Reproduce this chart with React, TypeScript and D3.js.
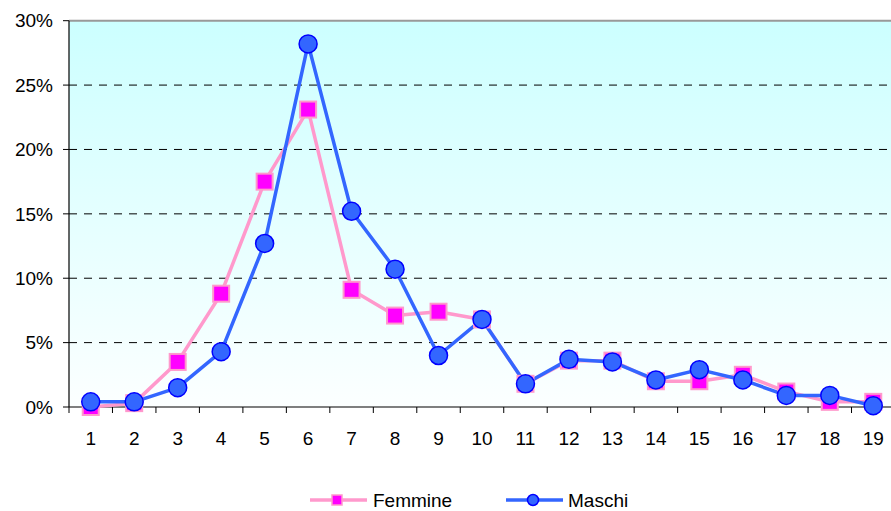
import React from "react";
import * as d3 from "d3";

const categories = ["1","2","3","4","5","6","7","8","9","10","11","12","13","14","15","16","17","18","19"];
const femmine = [0.0, 0.3, 3.5, 8.8, 17.5, 23.1, 9.1, 7.1, 7.4, 6.8, 1.8, 3.6, 3.6, 2.0, 2.0, 2.5, 1.2, 0.4, 0.4];
const maschi = [0.4, 0.4, 1.5, 4.3, 12.7, 28.2, 15.2, 10.7, 4.0, 6.8, 1.8, 3.7, 3.5, 2.1, 2.9, 2.1, 0.9, 0.9, 0.1];
const yTicks = [0, 5, 10, 15, 20, 25, 30];

const W = 891, H = 511;
const left = 69, right = 895, top = 20.7, bottom = 407;
const FONT = "'Liberation Sans', Arial, sans-serif";

export default function App() {
  const x = d3.scaleBand<string>().domain(categories).range([left, right]);
  const y = d3.scaleLinear().domain([0, 30]).range([bottom, top]);
  const cx = (c: string) => (x(c) as number) + x.bandwidth() / 2;
  const line = d3.line<number>().x((_, i) => cx(categories[i])).y((d) => y(d));
  const sq = 16;
  const ly = 500;
  return (
    <svg width={W} height={H} style={{ position: "absolute", left: 0, top: 0, display: "block" }}>
      <defs>
        <linearGradient id="bg" x1="0" y1="0" x2="0" y2="1">
          <stop offset="0%" stopColor="#CCFFFF" />
          <stop offset="100%" stopColor="#FCFFFF" />
        </linearGradient>
      </defs>
      <rect x={0} y={0} width={W} height={H} fill="#fff" />
      <rect x={left} y={top} width={right - left} height={bottom - top} fill="url(#bg)" />
      {yTicks.filter((t) => t > 0 && t < 30).map((t) => (
        <line key={t} x1={left} x2={right} y1={y(t)} y2={y(t)} stroke="#000" strokeWidth={1} strokeDasharray="8,7" />
      ))}
      <line x1={left} x2={right} y1={top} y2={top} stroke="#999" strokeWidth={2} />
      <line x1={left} x2={left} y1={top} y2={bottom} stroke="#000" strokeWidth={1.2} />
      <line x1={left} x2={right} y1={bottom} y2={bottom} stroke="#000" strokeWidth={1.2} />
      {yTicks.map((t) => (
        <g key={t}>
          <line x1={left - 6} x2={left} y1={y(t)} y2={y(t)} stroke="#000" strokeWidth={1} />
          <text x={53} y={y(t)} dy="0.35em" textAnchor="end" fontFamily={FONT} fontSize={19} fill="#000">{t}%</text>
        </g>
      ))}
      {categories.map((c) => (
        <g key={c}>
          <line x1={x(c) as number} x2={x(c) as number} y1={bottom} y2={bottom + 6} stroke="#000" strokeWidth={1} />
          <text x={cx(c)} y={438} dy="0.35em" textAnchor="middle" fontFamily={FONT} fontSize={19} fill="#000">{c}</text>
        </g>
      ))}
      <path d={line(femmine) || ""} fill="none" stroke="#FF99CC" strokeWidth={3.5} strokeLinejoin="round" />
      <path d={line(maschi) || ""} fill="none" stroke="#3366FF" strokeWidth={3.5} strokeLinejoin="round" />
      {femmine.map((v, i) => (
        <rect key={i} x={cx(categories[i]) - sq / 2} y={y(v) - sq / 2} width={sq} height={sq} fill="#FF00FF" stroke="#FF99CC" strokeWidth={2} />
      ))}
      {maschi.map((v, i) => (
        <circle key={i} cx={cx(categories[i])} cy={y(v)} r={9} fill="#3366FF" stroke="#0000FF" strokeWidth={1.5} />
      ))}
      <g>
        <line x1={310} x2={367} y1={ly} y2={ly} stroke="#FF99CC" strokeWidth={3.5} />
        <rect x={332} y={ly - 5} width={10} height={10} fill="#FF00FF" stroke="#FF99CC" strokeWidth={1.5} />
        <text x={373} y={ly} dy="0.35em" fontFamily={FONT} fontSize={19} fill="#000">Femmine</text>
        <line x1={506} x2={563} y1={ly} y2={ly} stroke="#3366FF" strokeWidth={3.5} />
        <circle cx={533} cy={ly} r={5.5} fill="#3366FF" stroke="#0000FF" strokeWidth={1.5} />
        <text x={568} y={ly} dy="0.35em" fontFamily={FONT} fontSize={19} fill="#000">Maschi</text>
      </g>
    </svg>
  );
}
